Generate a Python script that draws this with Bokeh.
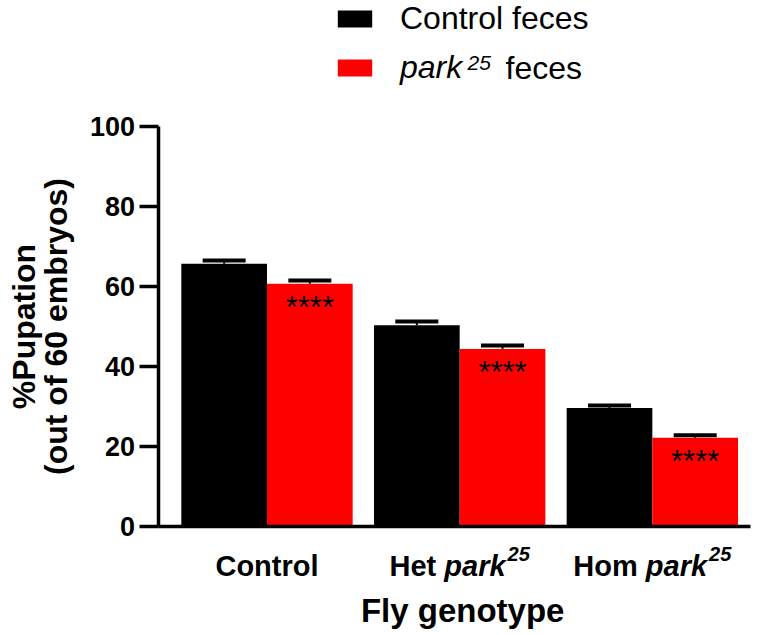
import numpy as np
from bokeh.plotting import figure
from bokeh.models import (ColumnDataSource, Range1d, FixedTicker, Whisker, TeeHead,
                          Label, Legend, LegendItem)
from bokeh.core.properties import value
from bokeh.embed import file_html
from bokeh.resources import INLINE

# ---------------- data ----------------
genotype_prefix = ["Control", "Het ", "Hom "]
genotype_allele = ["", "park", "park"]
genotype_sup = ["", "25", "25"]

control_feces = [65.7, 50.3, 29.6]
control_feces_err = [0.8, 0.95, 0.65]
park_feces = [60.7, 44.4, 22.2]
park_feces_err = [0.8, 0.85, 0.6]
significance = ["****", "****", "****"]

y_ticks = [0, 20, 40, 60, 80, 100]
y_min, y_max = 0, 100

FONT = "Liberation Sans"
BLACK = "#000000"
RED = "#FF0000"

# ---------------- layout (pixels) ----------------
W, H = 754, 632
PX_PER_Y = 4.0          # px per % unit
Y0_PX = 526             # y pixel of value 0 (from figure top)
PX_PER_G = 192.67       # px per genotype group
G0_PX = 266.5           # x pixel of first group centre (from figure left)
YAXIS_PX = 157.5        # x pixel of the y axis line
XAXIS_END_PX = 750      # right end of the x axis line
BASE = 0.37             # alphabetic baseline correction (fraction of font size)

x_lo = -G0_PX / PX_PER_G
x_hi = (W - G0_PX) / PX_PER_G
y_hi = Y0_PX / PX_PER_Y
y_lo = -(H - Y0_PX) / PX_PER_Y
yaxis_x = (YAXIS_PX - G0_PX) / PX_PER_G
xaxis_end = (XAXIS_END_PX - G0_PX) / PX_PER_G

p = figure(width=W, height=H, output_backend="svg", toolbar_location=None,
           x_range=Range1d(x_lo, x_hi), y_range=Range1d(y_lo, y_hi),
           min_border=0)
p.outline_line_color = None
p.xgrid.visible = False
p.ygrid.visible = False
p.background_fill_color = "white"
p.border_fill_color = "white"

groups = np.arange(len(genotype_prefix), dtype=float)
bw = 0.4447
dx = bw / 2

src_c = ColumnDataSource(dict(x=groups - dx, top=control_feces,
                              lo=control_feces,
                              hi=np.array(control_feces) + np.array(control_feces_err)))
src_p = ColumnDataSource(dict(x=groups + dx, top=park_feces,
                              lo=park_feces,
                              hi=np.array(park_feces) + np.array(park_feces_err),
                              sig=significance))

r_c = p.vbar(x="x", top="top", width=bw, bottom=0, source=src_c,
             fill_color=BLACK, line_color=None)
r_p = p.vbar(x="x", top="top", width=bw, bottom=0, source=src_p,
             fill_color=RED, line_color=None)

for src in (src_c, src_p):
    w = Whisker(base="x", lower="lo", upper="hi", source=src,
                line_color=BLACK, line_width=2,
                upper_head=TeeHead(size=43, line_width=4, line_color=BLACK),
                lower_head=None, level="overlay")
    p.add_layout(w)

STAR_SIZE = 31
p.text(x="x", y="top", text="sig", source=src_p, y_offset=24,
       text_align="center", text_baseline="alphabetic",
       text_font=value(FONT), text_font_size=f"{STAR_SIZE}px", text_color=BLACK)

# ---------------- axes ----------------
ya = p.yaxis[0]
ya.fixed_location = yaxis_x
ya.bounds = (y_min, y_max)
ya.ticker = FixedTicker(ticks=y_ticks)
ya.axis_line_width = 3.5
ya.axis_line_color = BLACK
ya.major_tick_line_width = 3.5
ya.major_tick_out = 19
ya.major_tick_in = 0
ya.minor_tick_line_color = None
ya.major_label_standoff = 4
ya.major_label_text_font = FONT
ya.major_label_text_font_style = "bold"
ya.major_label_text_font_size = "27px"
ya.major_label_text_color = BLACK

xa = p.xaxis[0]
xa.fixed_location = 0
xa.bounds = (yaxis_x, xaxis_end)
xa.ticker = FixedTicker(ticks=[])
xa.axis_line_width = 3.5
xa.axis_line_color = BLACK
xa.major_tick_line_color = None
xa.minor_tick_line_color = None

# y axis title (two lines, rotated); offsets = wanted baseline - axis - correction
YT_SIZE = 32
for txt, base_px in (("%Pupation", 35), ("(out of 60 embryos)", 67)):
    p.add_layout(Label(x=yaxis_x, y=(y_min + y_max) / 2,
                       x_offset=base_px - YAXIS_PX - BASE * YT_SIZE, text=txt,
                       angle=np.pi / 2, text_align="center", text_baseline="alphabetic",
                       text_font=FONT, text_font_style="bold",
                       text_font_size=f"{YT_SIZE}px", text_color=BLACK))

# ---------------- x category labels (mixed styles) ----------------
BOLD_W = {"C": 722, "o": 611, "n": 611, "t": 333, "r": 389, "l": 278, "H": 722,
          "e": 556, "m": 889, " ": 278, "p": 611, "a": 556, "k": 556,
          "2": 556, "5": 556}


def text_w(s, size):
    return sum(BOLD_W.get(ch, 556) for ch in s) * size / 1000.0


TICK_SIZE = 29
SUP_SIZE = 20
MAIN_BASE = 576 - Y0_PX      # baseline of category labels below the x axis
SUP_BASE = 561 - Y0_PX
for g, pre, al, sup in zip(groups, genotype_prefix, genotype_allele, genotype_sup):
    w_pre = text_w(pre, TICK_SIZE)
    w_al = text_w(al, TICK_SIZE)
    w_sup = (text_w(sup, SUP_SIZE) + 2) if sup else 0
    x0 = -(w_pre + w_al + w_sup) / 2
    yo = -MAIN_BASE + BASE * TICK_SIZE
    p.add_layout(Label(x=g, y=0, x_offset=x0, y_offset=yo, text=pre,
                       text_align="left", text_baseline="alphabetic",
                       text_font=FONT, text_font_style="bold",
                       text_font_size=f"{TICK_SIZE}px", text_color=BLACK))
    if al:
        p.add_layout(Label(x=g, y=0, x_offset=x0 + w_pre, y_offset=yo, text=al,
                           text_align="left", text_baseline="alphabetic",
                           text_font=FONT, text_font_style="bold italic",
                           text_font_size=f"{TICK_SIZE}px", text_color=BLACK))
    if sup:
        p.add_layout(Label(x=g, y=0, x_offset=x0 + w_pre + w_al + 2,
                           y_offset=-SUP_BASE + BASE * SUP_SIZE,
                           text=sup, text_align="left", text_baseline="alphabetic",
                           text_font=FONT, text_font_style="bold italic",
                           text_font_size=f"{SUP_SIZE}px", text_color=BLACK))

XT_SIZE = 33
p.add_layout(Label(x=1, y=0, x_offset=3, y_offset=-(622 - Y0_PX) + BASE * XT_SIZE,
                   text="Fly genotype",
                   text_align="center", text_baseline="alphabetic",
                   text_font=FONT, text_font_style="bold",
                   text_font_size=f"{XT_SIZE}px", text_color=BLACK))

# ---------------- legend ----------------
LEG_SIZE = 32
LEG_X = 333
common = dict(padding=0, margin=0, border_line_color=None, background_fill_alpha=0,
              glyph_width=43, glyph_height=21, label_standoff=24,
              label_text_font=FONT, label_text_font_size=f"{LEG_SIZE}px",
              label_text_color=BLACK)
leg1 = Legend(items=[LegendItem(label="Control feces", renderers=[r_c])],
              location=(LEG_X, H - 37), **common)
leg2 = Legend(items=[LegendItem(label="park", renderers=[r_p])],
              location=(LEG_X, H - 86), label_text_font_style="italic", **common)
p.add_layout(leg1)
p.add_layout(leg2)

LEG_BASE2 = 79
p.add_layout(Label(x=467, y=H - (70 - BASE * 21), x_units="screen", y_units="screen",
                   text="25", text_align="left", text_baseline="alphabetic",
                   text_font=FONT, text_font_style="italic",
                   text_font_size="21px", text_color=BLACK))
p.add_layout(Label(x=505, y=H - (LEG_BASE2 - BASE * LEG_SIZE), x_units="screen",
                   y_units="screen", text="feces",
                   text_align="left", text_baseline="alphabetic",
                   text_font=FONT, text_font_size=f"{LEG_SIZE}px", text_color=BLACK))

open("out.html", "w").write(file_html(p, INLINE))
